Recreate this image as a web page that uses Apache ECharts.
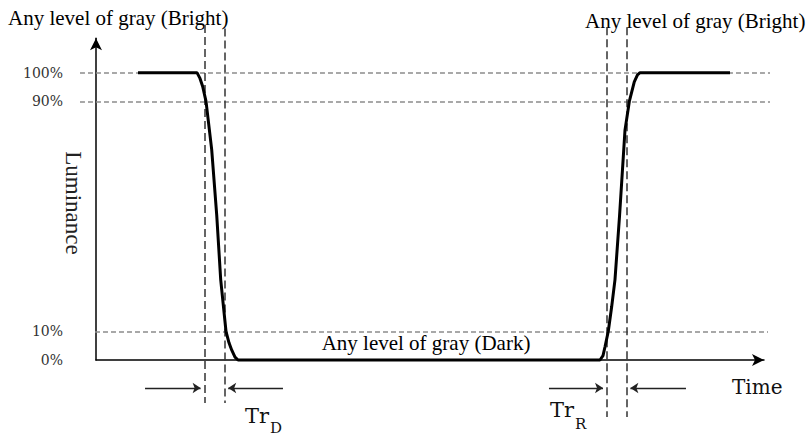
<!DOCTYPE html>
<html><head><meta charset="utf-8">
<script src="https://cdn.jsdelivr.net/npm/echarts@6/dist/echarts.min.js"></script>
<style>html,body{margin:0;padding:0;background:#fff}#c{width:811px;height:443px}</style>
</head><body><div id="c"></div><script>
// ---- data (time in arbitrary units 0..100, luminance in %) ----
const timeValues = [6.29,15.12,15.57,15.97,16.47,17.32,18.07,18.67,19.46,19.91,20.31,20.81,21.26,75.45,75.90,76.20,76.69,77.20,77.69,78.37,79.19,79.84,80.58,81.06,81.44,94.91];
const luminanceValues = [100,100,98,95.2,90,73.2,50.5,27.9,10,6,3.5,1,0,0,1.5,4.6,10,18.6,27.9,50,80,90,96.8,99.2,100,100];
const levelValues = [0,10,90,100];
const levelLabels = ['0%','10%','90%','100%'];
const referenceLevels = [10,90,100];
const transitionTimes = [16.21,19.24,76.45,79.45];
const transitionNames = ['Tr', 'D', 'Tr', 'R'];
const brightLabel = 'Any level of gray (Bright)';
const darkLabel = 'Any level of gray (Dark)';
const yAxisTitle = 'Luminance';
const xAxisTitle = 'Time';

// ---- layout helpers ----
const refStart = {10: -0.15, 90: -2.4, 100: -2.4};
const refEnd = {10: 100.6, 90: 100.9, 100: 100.9};
const markerTop = [116.6, 115.4, 115.8, 115.8];
const markerBottom = [-14.97, -14.97, -19.84, -19.84];
const arrowY = -9.75;
const arrowFrom = [7.34, 27.99, 67.81, 88.32];
const tipAdj = 0.55;

const chart = echarts.init(document.getElementById('c'), null, {renderer: 'svg'});
const curve = timeValues.map((t, i) => [t, luminanceValues[i]]);
const refData = referenceLevels.map(v => ({coords: [[refStart[v], v], [refEnd[v], v]]}));
const markerData = transitionTimes.map((t, i) => ({coords: [[t, markerTop[i]], [t, markerBottom[i]]]}));
const arrowData = transitionTimes.map((t, i) => {
  const dir = (i % 2 === 0) ? -1 : 1;
  return {coords: [[arrowFrom[i], arrowY], [t + dir * tipAdj, arrowY]]};
});

const serif = 'Liberation Serif, Times New Roman, serif';
const slab = 'DejaVu Serif, serif';

chart.setOption({
  animation: false,
  grid: {left: 96, right: 47, top: 38.2, bottom: 83, containLabel: false, outerBoundsMode: 'none'},
  xAxis: {
    type: 'value', min: 0, max: 100,
    axisLine: {show: true, symbol: ['none', 'arrow'], symbolSize: [9, 12], lineStyle: {color: '#000', width: 1.5}},
    axisTick: {show: false}, axisLabel: {show: false}, splitLine: {show: false}
  },
  yAxis: {
    type: 'value', min: 0, max: 112, interval: 10,
    axisLine: {show: true, symbol: ['none', 'arrow'], symbolSize: [9, 12], lineStyle: {color: '#000', width: 1.5}},
    axisTick: {show: false}, splitLine: {show: false},
    axisLabel: {
      margin: 33, color: '#333', fontFamily: slab, fontSize: 14,
      formatter: v => { const i = levelValues.indexOf(v); return i >= 0 ? levelLabels[i] : ''; }
    }
  },
  series: [
    {
      type: 'lines', coordinateSystem: 'cartesian2d', clip: false, silent: true, z: 1,
      lineStyle: {color: '#8c8c8c', width: 1.5, type: [5, 3], opacity: 1},
      data: refData
    },
    {
      type: 'lines', coordinateSystem: 'cartesian2d', clip: false, silent: true, z: 2,
      lineStyle: {color: '#333', width: 1.5, type: [8, 4], opacity: 1},
      data: markerData
    },
    {
      type: 'lines', coordinateSystem: 'cartesian2d', clip: false, silent: true, z: 3,
      symbol: ['none', 'arrow'], symbolSize: 8,
      lineStyle: {color: '#222', width: 1.3, opacity: 1},
      data: arrowData
    },
    {
      type: 'line', data: curve, showSymbol: false, clip: false, z: 5,
      lineStyle: {color: '#000', width: 3}
    }
  ],
  graphic: [
    {type: 'text', x: 73, y: 203, rotation: -Math.PI / 2, style: {text: yAxisTitle, font: '23px ' + serif, fill: '#222', align: 'center', verticalAlign: 'middle'}},
    {type: 'text', x: 8, y: 18, style: {text: brightLabel, font: '21px ' + serif, fill: '#000', align: 'left', verticalAlign: 'middle'}},
    {type: 'text', x: 585, y: 21, style: {text: brightLabel, font: '21px ' + serif, fill: '#000', align: 'left', verticalAlign: 'middle'}},
    {type: 'text', x: 426, y: 343, style: {text: darkLabel, font: '21px ' + serif, fill: '#000', align: 'center', verticalAlign: 'middle'}},
    {type: 'text', x: 732, y: 386.5, style: {text: xAxisTitle, font: '20px ' + slab, fill: '#111', align: 'left', verticalAlign: 'middle'}},
    {type: 'text', x: 245, y: 416, style: {text: transitionNames[0], font: '21px ' + slab, fill: '#111', align: 'left', verticalAlign: 'middle'}},
    {type: 'text', x: 270, y: 428, style: {text: transitionNames[1], font: '15px ' + slab, fill: '#111', align: 'left', verticalAlign: 'middle'}},
    {type: 'text', x: 550, y: 410, style: {text: transitionNames[2], font: '21px ' + slab, fill: '#111', align: 'left', verticalAlign: 'middle'}},
    {type: 'text', x: 575, y: 424, style: {text: transitionNames[3], font: '15px ' + slab, fill: '#111', align: 'left', verticalAlign: 'middle'}}
  ]
});
</script></body></html>
